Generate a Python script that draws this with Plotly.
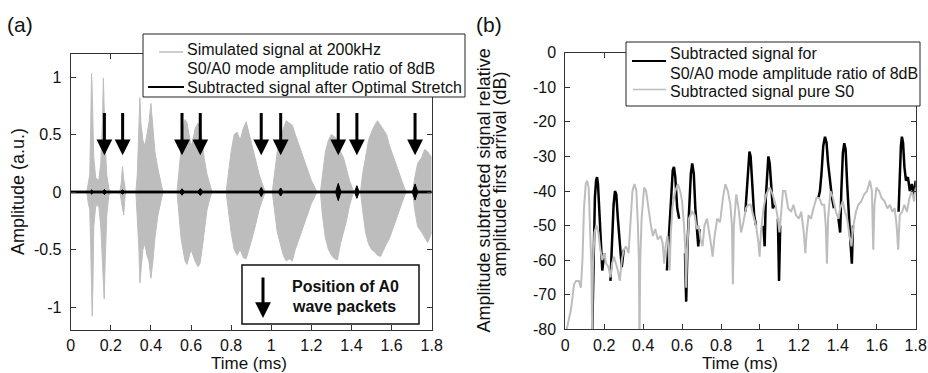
import plotly.graph_objects as go

# ---------------- data: panel (a) ----------------
# envelope of the simulated 200 kHz signal (upper / lower)
sig_t = [0.000, 0.080, 0.088, 0.095, 0.100, 0.104, 0.107, 0.111, 0.115, 0.125, 0.140, 0.150, 0.158, 0.163, 0.167, 0.172, 0.180, 0.190, 0.200,
         0.245, 0.252, 0.258, 0.264, 0.272, 0.280,
         0.325, 0.332, 0.340, 0.345, 0.350, 0.360, 0.370, 0.380, 0.390, 0.400, 0.410, 0.420, 0.435, 0.450, 0.460,
         0.530, 0.540, 0.550, 0.560, 0.570, 0.580, 0.590, 0.600, 0.610, 0.620, 0.635, 0.645, 0.655, 0.665, 0.680, 0.695, 0.705,
         0.775, 0.785, 0.800, 0.815, 0.830, 0.845, 0.860, 0.875, 0.890, 0.905, 0.920, 0.940, 0.960, 0.970,
         1.005, 1.015, 1.030, 1.045, 1.060, 1.075, 1.090, 1.105, 1.120, 1.140, 1.160, 1.180, 1.200, 1.220, 1.230,
         1.245, 1.255, 1.270, 1.285, 1.300, 1.315, 1.330, 1.345, 1.360, 1.375, 1.390, 1.405, 1.415,
         1.445, 1.455, 1.470, 1.485, 1.500, 1.515, 1.530, 1.545, 1.560, 1.575, 1.590, 1.610, 1.630, 1.650, 1.665, 1.675,
         1.705, 1.715, 1.730, 1.750, 1.765, 1.780, 1.800]
sig_up = [0, 0, 0.08, 0.15, 0.60, 1.03, 0.90, 0.50, 0.30, 0.12, 0.10, 0.25, 0.60, 0.99, 0.70, 0.40, 0.15, 0.03, 0,
          0, 0.08, 0.22, 0.12, 0.02, 0,
          0, 0.15, 0.60, 0.82, 0.60, 0.45, 0.40, 0.50, 0.60, 0.77, 0.55, 0.35, 0.20, 0.08, 0,
          0, 0.20, 0.40, 0.55, 0.63, 0.60, 0.50, 0.40, 0.45, 0.55, 0.60, 0.58, 0.45, 0.30, 0.15, 0.05, 0,
          0, 0.15, 0.35, 0.50, 0.52, 0.45, 0.55, 0.61, 0.50, 0.40, 0.30, 0.15, 0.05, 0,
          0, 0.15, 0.35, 0.45, 0.55, 0.62, 0.60, 0.58, 0.50, 0.40, 0.30, 0.20, 0.10, 0.03, 0,
          0, 0.15, 0.35, 0.45, 0.50, 0.48, 0.45, 0.35, 0.30, 0.20, 0.10, 0.03, 0,
          0, 0.15, 0.30, 0.45, 0.52, 0.58, 0.62, 0.58, 0.55, 0.50, 0.40, 0.30, 0.20, 0.10, 0.03, 0,
          0, 0.12, 0.25, 0.30, 0.37, 0.35, 0.30]
sig_lo = [0, 0, -0.10, -0.15, -0.50, -0.90, -1.08, -0.80, -0.30, -0.12, -0.12, -0.30, -0.60, -0.80, -0.93, -0.60, -0.20, -0.03, 0,
          0, -0.08, -0.12, -0.20, -0.02, 0,
          0, -0.20, -0.50, -0.79, -0.70, -0.50, -0.45, -0.55, -0.60, -0.75, -0.60, -0.40, -0.20, -0.08, 0,
          0, -0.20, -0.40, -0.50, -0.60, -0.63, -0.55, -0.50, -0.55, -0.60, -0.65, -0.62, -0.50, -0.35, -0.15, -0.05, 0,
          0, -0.15, -0.35, -0.50, -0.55, -0.50, -0.57, -0.58, -0.50, -0.40, -0.30, -0.15, -0.05, 0,
          0, -0.15, -0.35, -0.45, -0.55, -0.60, -0.58, -0.60, -0.50, -0.40, -0.30, -0.20, -0.10, -0.03, 0,
          0, -0.20, -0.40, -0.50, -0.55, -0.58, -0.59, -0.45, -0.35, -0.25, -0.12, -0.03, 0,
          0, -0.15, -0.35, -0.45, -0.50, -0.52, -0.55, -0.56, -0.50, -0.45, -0.40, -0.30, -0.20, -0.10, -0.03, 0,
          0, -0.15, -0.30, -0.35, -0.40, -0.44, -0.35]

# subtracted signal after optimal stretch (half-amplitude envelope)
sub_t = [0.000, 0.100, 0.104, 0.110, 0.160, 0.168, 0.176, 0.250, 0.259, 0.268,
         0.545, 0.555, 0.565, 0.635, 0.646, 0.657, 0.940, 0.950, 0.960, 1.037, 1.047, 1.057,
         1.322, 1.334, 1.346, 1.417, 1.427, 1.437, 1.705, 1.717, 1.729, 1.800]
sub_amp = [0.008, 0.008, 0.02, 0.008, 0.008, 0.022, 0.008, 0.008, 0.018, 0.008,
           0.008, 0.028, 0.008, 0.008, 0.030, 0.008, 0.008, 0.040, 0.008, 0.008, 0.035, 0.008,
           0.008, 0.075, 0.008, 0.008, 0.055, 0.008, 0.008, 0.070, 0.008, 0.008]

# positions of A0 wave packets (arrows)
a0_times = [0.168, 0.259, 0.555, 0.646, 0.950, 1.047, 1.334, 1.427, 1.717]
arrow_top = 0.70
arrow_tip = 0.32

# ---------------- data: panel (b) ----------------
s0_t = [0.000, 0.015, 0.030, 0.045, 0.055, 0.070, 0.080, 0.088, 0.096, 0.105, 0.112, 0.120, 0.128, 0.134, 0.138, 0.142,
        0.150, 0.160, 0.170, 0.180, 0.190, 0.200, 0.210, 0.222, 0.232, 0.240, 0.250, 0.260, 0.270, 0.280, 0.290, 0.300,
        0.312, 0.325, 0.335, 0.345, 0.355, 0.365, 0.373, 0.378, 0.381, 0.385, 0.392, 0.405, 0.415, 0.428, 0.440, 0.450,
        0.462, 0.475, 0.490, 0.500, 0.508, 0.515, 0.525, 0.530, 0.536, 0.542, 0.552, 0.565, 0.578, 0.590, 0.600, 0.610,
        0.617, 0.621, 0.626, 0.635, 0.650, 0.665, 0.675, 0.685, 0.695, 0.705, 0.715, 0.728, 0.740, 0.750, 0.757, 0.765,
        0.780, 0.795, 0.810, 0.822, 0.835, 0.848, 0.856, 0.861, 0.866, 0.878, 0.890, 0.903, 0.915, 0.928, 0.940, 0.952,
        0.965, 0.980, 0.992, 0.998, 1.005, 1.018, 1.032, 1.050, 1.065, 1.080, 1.092, 1.100, 1.108, 1.118, 1.130, 1.145,
        1.160, 1.172, 1.185, 1.200, 1.212, 1.225, 1.233, 1.240, 1.250, 1.262, 1.275, 1.290, 1.305, 1.318, 1.330, 1.338,
        1.344, 1.350, 1.362, 1.375, 1.390, 1.403, 1.412, 1.425, 1.437, 1.448, 1.460, 1.470, 1.480, 1.493, 1.505, 1.520,
        1.535, 1.550, 1.565, 1.575, 1.582, 1.588, 1.598, 1.612, 1.625, 1.640, 1.655, 1.668, 1.680, 1.692, 1.702, 1.710,
        1.718, 1.730, 1.742, 1.755, 1.768, 1.780, 1.792, 1.800]
s0_db = [-82, -78, -74, -67, -66, -66, -68, -60, -45, -38, -37, -39, -50, -62, -82, -62,
         -52, -50, -52, -57, -60, -58, -61, -62, -65, -61, -59, -61, -63, -66, -60, -57,
         -56, -58, -50, -40, -38, -40, -50, -60, -85, -60, -48, -39, -40, -46, -50, -53,
         -51, -54, -53, -55, -61, -56, -53, -57, -63, -52, -44, -40, -38, -40, -43, -50,
         -58, -68, -57, -48, -46, -47, -51, -50, -54, -56, -50, -48, -52, -56, -59, -54,
         -48, -49, -42, -38, -40, -44, -50, -67, -50, -41, -45, -52, -49, -45, -44, -44,
         -47, -50, -55, -59, -52, -45, -41, -39, -41, -44, -48, -52, -47, -40, -40, -45,
         -46, -44, -47, -48, -46, -52, -58, -52, -47, -48, -45, -42, -42, -44, -44, -50,
         -61, -48, -40, -42, -46, -48, -45, -43, -46, -48, -53, -56, -50, -46, -44, -43,
         -41, -40, -37, -40, -57, -44, -39, -40, -42, -43, -45, -44, -46, -45, -50, -57,
         -47, -46, -44, -46, -42, -40, -43, -39]

# subtracted signal for 8 dB ratio: visible segments (where it departs from pure S0)
mix_t = [0.138, 0.145, 0.152, 0.158, 0.163, 0.168, 0.175, 0.182, 0.190, 0.200, None,
         0.232, 0.240, 0.248, 0.255, 0.262, 0.270, 0.280, 0.290, 0.300, None,
         0.522, 0.530, 0.538, 0.545, 0.552, 0.558, 0.565, 0.575, 0.585, None,
         0.615, 0.621, 0.628, 0.635, 0.645, 0.652, 0.660, 0.668, 0.675, 0.683, 0.690, None,
         0.925, 0.932, 0.940, 0.946, 0.952, 0.960, 0.970, 0.980, None,
         1.018, 1.024, 1.030, 1.037, 1.043, 1.050, 1.058, 1.066, 1.075, None,
         1.092, 1.098, 1.104, None,
         1.300, 1.308, 1.316, 1.325, 1.334, 1.342, 1.350, 1.360, 1.370, 1.380, None,
         1.403, 1.412, 1.418, 1.426, 1.433, 1.440, 1.448, 1.456, 1.465, 1.472, 1.478, None,
         1.712, 1.718, 1.724, 1.729, 1.735, 1.742, 1.750, 1.760, 1.770, 1.780, 1.790, 1.800]
mix_db = [-82, -55, -42, -37, -36, -38, -46, -55, -63, -58, None,
          -66, -55, -44, -40, -41, -48, -56, -62, -57, None,
          -63, -55, -48, -40, -34, -33, -36, -45, -48, None,
          -58, -72, -55, -45, -35, -32, -35, -45, -50, -56, -51, None,
          -46, -40, -31, -28.6, -30, -38, -47, -50, None,
          -50, -56, -42, -33, -30, -32, -38, -45, -44, None,
          -48, -66, -50, None,
          -42, -40, -35, -27, -24.3, -26, -32, -38, -42, -45, None,
          -48, -52, -40, -29, -26.2, -28, -38, -48, -55, -61, -50, None,
          -46, -36, -27, -24.3, -26, -33, -37, -36, -40, -38, -41, -37]

time_ticks = [0, 0.2, 0.4, 0.6, 0.8, 1, 1.2, 1.4, 1.6, 1.8]
time_labels = ["0", "0.2", "0.4", "0.6", "0.8", "1", "1.2", "1.4", "1.6", "1.8"]
amp_ticks = [-1, -0.5, 0, 0.5, 1]
amp_labels = ["-1", "-0.5", "0", "0.5", "1"]
db_ticks = [-80, -70, -60, -50, -40, -30, -20, -10, 0]
db_labels = ["-80", "-70", "-60", "-50", "-40", "-30", "-20", "-10", "0"]

# ---------------- figure ----------------
W, H = 928, 373
GRAY = "#bdbdbd"
FONT = "Liberation Sans, Arial, sans-serif"
TXT = "#111111"


def px(x):
    return x / W


def py(y):
    return 1 - y / H


fig = go.Figure()

# panel (a): simulated signal envelope
fig.add_trace(go.Scatter(x=sig_t, y=sig_up, mode="lines", line=dict(color=GRAY, width=1),
                         xaxis="x", yaxis="y", showlegend=False, hoverinfo="skip"))
fig.add_trace(go.Scatter(x=sig_t, y=sig_lo, mode="lines", line=dict(color=GRAY, width=1),
                         fill="tonexty", fillcolor=GRAY, xaxis="x", yaxis="y", showlegend=False, hoverinfo="skip"))
# panel (a): subtracted signal
fig.add_trace(go.Scatter(x=sub_t, y=sub_amp, mode="lines", line=dict(color="black", width=1),
                         xaxis="x", yaxis="y", showlegend=False, hoverinfo="skip"))
fig.add_trace(go.Scatter(x=sub_t, y=[-a for a in sub_amp], mode="lines", line=dict(color="black", width=1),
                         fill="tonexty", fillcolor="black", xaxis="x", yaxis="y", showlegend=False, hoverinfo="skip"))

# panel (b)
fig.add_trace(go.Scatter(x=mix_t, y=mix_db, mode="lines", line=dict(color="black", width=2.5),
                         connectgaps=False, xaxis="x2", yaxis="y2", showlegend=False, hoverinfo="skip"))
fig.add_trace(go.Scatter(x=s0_t, y=s0_db, mode="lines", line=dict(color=GRAY, width=2),
                         xaxis="x2", yaxis="y2", showlegend=False, hoverinfo="skip"))

axis_common = dict(showline=True, linecolor="#333333", linewidth=1, mirror="ticks", ticks="inside",
                   ticklen=5, tickcolor="#333333", showgrid=False, zeroline=False, automargin=False,
                   tickfont=dict(family=FONT, size=16, color=TXT))

fig.update_layout(
    template="none",
    width=W, height=H, margin=dict(l=0, r=0, t=0, b=0, pad=0, autoexpand=False), autosize=False,
    paper_bgcolor="white", plot_bgcolor="white", showlegend=False,
    font=dict(family=FONT, color=TXT),
    xaxis=dict(domain=[px(70.7), px(431.7)], range=[0, 1.8], tickvals=time_ticks, ticktext=time_labels,
               anchor="y", ticklabelstandoff=1, **axis_common),
    yaxis=dict(domain=[py(330), py(54)], range=[-1.2, 1.2], tickvals=amp_ticks, ticktext=amp_labels,
               anchor="x", ticklabelstandoff=5, **axis_common),
    xaxis2=dict(domain=[px(565.3), px(915.7)], range=[0, 1.8], tickvals=time_ticks, ticktext=time_labels,
                anchor="y2", ticklabelstandoff=1, **axis_common),
    yaxis2=dict(domain=[py(329.3), py(52.7)], range=[-80, 0], tickvals=db_ticks, ticktext=db_labels,
                anchor="x2", ticklabelstandoff=5, **axis_common),
)

shapes = []
annotations = []


def label(txt, x, y, size=16, anchor="center", angle=0):
    return dict(x=px(x), y=py(y), xref="paper", yref="paper", xanchor=anchor, yanchor="middle",
                text=txt, showarrow=False, textangle=angle, font=dict(family=FONT, size=size, color=TXT))


# A0 arrows in panel (a)
for t in a0_times:
    annotations.append(dict(x=t, y=arrow_tip, ax=t, ay=arrow_top, xref="x", yref="y", axref="x", ayref="y",
                            text="", showarrow=True, arrowhead=2, arrowsize=1.05, arrowwidth=3, arrowcolor="black"))

# legend (a)
shapes.append(dict(type="rect", xref="paper", yref="paper", x0=px(143), x1=px(465), y0=py(97), y1=py(34),
                   line=dict(color="#222222", width=1), fillcolor="white", layer="above"))
shapes.append(dict(type="line", xref="paper", yref="paper", x0=px(159), x1=px(183), y0=py(52), y1=py(52),
                   line=dict(color=GRAY, width=1.5), layer="above"))
shapes.append(dict(type="line", xref="paper", yref="paper", x0=px(148), x1=px(184), y0=py(87), y1=py(87),
                   line=dict(color="black", width=2), layer="above"))
for txt, yc in [("Simulated signal at 200kHz", 49.5), ("S0/A0 mode amplitude ratio of 8dB", 68.5),
                ("Subtracted signal after Optimal Stretch", 87.5)]:
    annotations.append(label(txt, 185, yc, anchor="left"))

# A0 box (a)
shapes.append(dict(type="rect", xref="paper", yref="paper", x0=px(242), x1=px(419), y0=py(324), y1=py(265),
                   line=dict(color="#111111", width=1.5), fillcolor="white", layer="above"))
annotations.append(dict(x=px(263), y=py(318), xref="paper", yref="paper", ax=0, ay=-42, text="", showarrow=True,
                        arrowhead=2, arrowsize=1.05, arrowwidth=3, arrowcolor="black"))
annotations.append(label("<b>Position of A0</b>", 290, 286, anchor="left"))
annotations.append(label("<b>wave packets</b>", 290, 306, anchor="left"))

# legend (b)
shapes.append(dict(type="rect", xref="paper", yref="paper", x0=px(626), x1=px(920), y0=py(106), y1=py(42),
                   line=dict(color="#222222", width=1), fillcolor="white", layer="above"))
shapes.append(dict(type="line", xref="paper", yref="paper", x0=px(632), x1=px(666), y0=py(61), y1=py(61),
                   line=dict(color="black", width=2), layer="above"))
shapes.append(dict(type="line", xref="paper", yref="paper", x0=px(633), x1=px(666), y0=py(89.5), y1=py(89.5),
                   line=dict(color=GRAY, width=1.5), layer="above"))
for txt, yc in [("Subtracted signal for", 54), ("S0/A0 mode amplitude ratio of 8dB", 73),
                ("Subtracted signal pure S0", 92)]:
    annotations.append(label(txt, 668, yc, anchor="left"))

# panel labels and axis titles
annotations += [
    label("(a)", 20, 24, size=21),
    label("(b)", 489, 24, size=21),
    label("Time (ms)", 249, 363.5, size=17),
    label("Time (ms)", 740, 363.5, size=17),
    label("Amplitude (a.u.)", 18, 192, size=18, angle=-90),
    label("Amplitude subtracted signal relative", 483.5, 191, size=18, angle=-90),
    label("amplitude first arrival (dB)", 499.5, 174, size=18, angle=-90),
]

fig.update_layout(shapes=shapes, annotations=annotations)
fig.write_html("out.html")
